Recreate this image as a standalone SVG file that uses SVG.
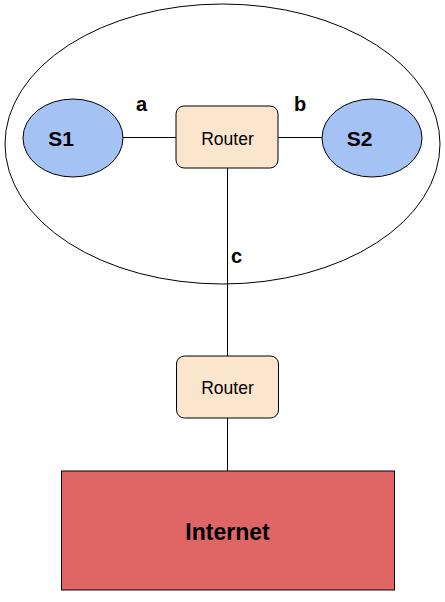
<svg xmlns="http://www.w3.org/2000/svg" width="445" height="602" viewBox="0 0 445 602">
<style>
.ln{stroke:#000;stroke-width:1;fill:none}
.srv{fill:#a4c2f4;stroke:#000;stroke-width:1}
.rtr{fill:#fce5cd;stroke:#000;stroke-width:1}
.t{font-family:"Liberation Sans",Arial,sans-serif;fill:#000}
.b{font-weight:bold}
</style>
<rect width="445" height="602" fill="#fff"/>
<g id="network">
<ellipse cx="222.5" cy="144" rx="217.5" ry="140" fill="none" stroke="#000" stroke-width="1"/>
</g>
<g id="connectors">
<line class="ln" x1="123" y1="137.5" x2="176" y2="137.5"/>
<line class="ln" x1="278" y1="137.5" x2="322" y2="137.5"/>
<line class="ln" x1="227.5" y1="168" x2="227.5" y2="356"/>
<line class="ln" x1="227.5" y1="418" x2="227.5" y2="471"/>
<text class="t b" x="141.5" y="111" font-size="20" text-anchor="middle">a</text>
<text class="t b" x="300" y="111" font-size="20" text-anchor="middle">b</text>
<text class="t b" x="236.5" y="263" font-size="20" text-anchor="middle">c</text>
</g>
<g id="s1">
<ellipse class="srv" cx="73" cy="138" rx="50" ry="39"/>
<text class="t b" x="61" y="146" font-size="21" text-anchor="middle">S1</text>
</g>
<g id="s2">
<ellipse class="srv" cx="372" cy="138" rx="50" ry="39"/>
<text class="t b" x="359.5" y="146" font-size="21" text-anchor="middle">S2</text>
</g>
<g id="router1">
<rect class="rtr" x="176" y="106" width="102" height="62" rx="8"/>
<text class="t" x="227.5" y="145" font-size="17.5" text-anchor="middle">Router</text>
</g>
<g id="router2">
<rect class="rtr" x="176.5" y="356" width="102" height="62" rx="8"/>
<text class="t" x="227.5" y="394" font-size="17.5" text-anchor="middle">Router</text>
</g>
<g id="internet">
<rect x="61.5" y="471" width="333" height="119" fill="#e06666" stroke="#000" stroke-width="1"/>
<text class="t b" x="227.5" y="540" font-size="23" text-anchor="middle" fill="#1a0000">Internet</text>
</g>
</svg>
